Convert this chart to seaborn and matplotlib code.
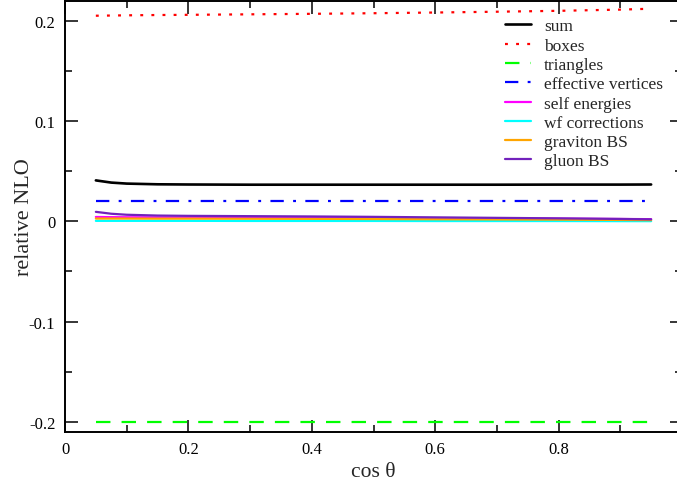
import numpy as np
import pandas as pd
import matplotlib
matplotlib.use("Agg")
import matplotlib.pyplot as plt
import seaborn as sns

# cos(theta) sample points
cos_theta = [0.05, 0.075, 0.1, 0.15, 0.2, 0.3, 0.4, 0.5, 0.6, 0.7, 0.8, 0.9, 0.95]

# relative NLO contributions
sum_nlo      = [0.0409, 0.0387, 0.0377, 0.0370, 0.0368, 0.0366, 0.0366, 0.0366, 0.0366, 0.0366, 0.0367, 0.0367, 0.0368]
boxes        = [0.2053, 0.2055, 0.2057, 0.2060, 0.2062, 0.2067, 0.2072, 0.2078, 0.2085, 0.2093, 0.2102, 0.2114, 0.2123]
triangles    = [-0.2003] * 13
eff_vertices = [0.0202] * 13
self_en      = [0.0044, 0.0042, 0.0041, 0.0040, 0.0039, 0.0038, 0.0036, 0.0034, 0.0032, 0.0030, 0.0027, 0.0024, 0.0022]
wf_corr      = [0.0005, 0.0005, 0.0005, 0.0005, 0.0005, 0.0004, 0.0004, 0.0004, 0.0003, 0.0003, 0.0003, 0.0002, 0.0002]
graviton_bs  = [0.0028, 0.0028, 0.0028, 0.0027, 0.0027, 0.0026, 0.0025, 0.0023, 0.0021, 0.0019, 0.0017, 0.0014, 0.0012]
gluon_bs     = [0.0095, 0.0076, 0.0066, 0.0058, 0.0055, 0.0052, 0.0049, 0.0045, 0.0040, 0.0035, 0.0030, 0.0024, 0.0020]

series = [
    ("sum", sum_nlo, "black", "-", 1.9),
    ("boxes", boxes, "#ff0000", (0, (1.3, 3.7)), 1.6),
    ("triangles", triangles, "#00ff00", (0, (6.5, 5.0)), 1.6),
    ("effective vertices", eff_vertices, "#0000ff", (0, (6.0, 4.2, 1.3, 4.2)), 1.6),
    ("self energies", self_en, "#ff00ff", "-", 1.6),
    ("wf corrections", wf_corr, "#00ffff", "-", 1.6),
    ("graviton BS", graviton_bs, "#ffa500", "-", 1.6),
    ("gluon BS", gluon_bs, "#7221bc", "-", 1.6),
]

sns.set_theme(style="ticks")
plt.rcParams["font.family"] = ["Liberation Serif", "DejaVu Serif"]

fig = plt.figure(figsize=(6.77, 4.81), dpi=100)
ax = fig.add_axes([65 / 677, 1 - 432.7 / 481, 617 / 677, (432.7 - 2) / 481])

for name, vals, color, ls, lw in series:
    df = pd.DataFrame({"cos": cos_theta, "val": vals})
    sns.lineplot(data=df, x="cos", y="val", ax=ax, color=color, linestyle=ls,
                 linewidth=lw, label=name)

ax.set_xlim(0, 1)
ax.set_ylim(-0.21, 0.22)
ax.set_xticks([0, 0.2, 0.4, 0.6, 0.8])
ax.set_xticklabels(["0", "0.2", "0.4", "0.6", "0.8"])
ax.set_xticks([0.1, 0.3, 0.5, 0.7, 0.9], minor=True)
ax.set_yticks([-0.2, -0.1, 0, 0.1, 0.2])
ax.set_yticklabels(["-0.2", "-0.1", "0", "0.1", "0.2"])
ax.set_yticks([-0.15, -0.05, 0.05, 0.15], minor=True)

ax.tick_params(which="both", direction="in", top=True, right=True,
               labelsize=12, colors="black", width=1.1)
ax.tick_params(which="major", length=9, pad=7)
ax.tick_params(which="minor", length=5)
for sp in ax.spines.values():
    sp.set_linewidth(1.4)
    sp.set_color("black")

ax.set_xlabel("cos θ", fontsize=15.5, labelpad=3)
ax.set_ylabel("relative NLO", fontsize=16)
ax.yaxis.set_label_coords(-0.05, 0.5)

leg = ax.legend(loc="upper left", bbox_to_anchor=(0.694, 0.988), frameon=False,
                fontsize=12.5, handlelength=1.5, handletextpad=0.72,
                labelspacing=0.18, borderpad=0.2)

fig.savefig("out.png", dpi=100)
